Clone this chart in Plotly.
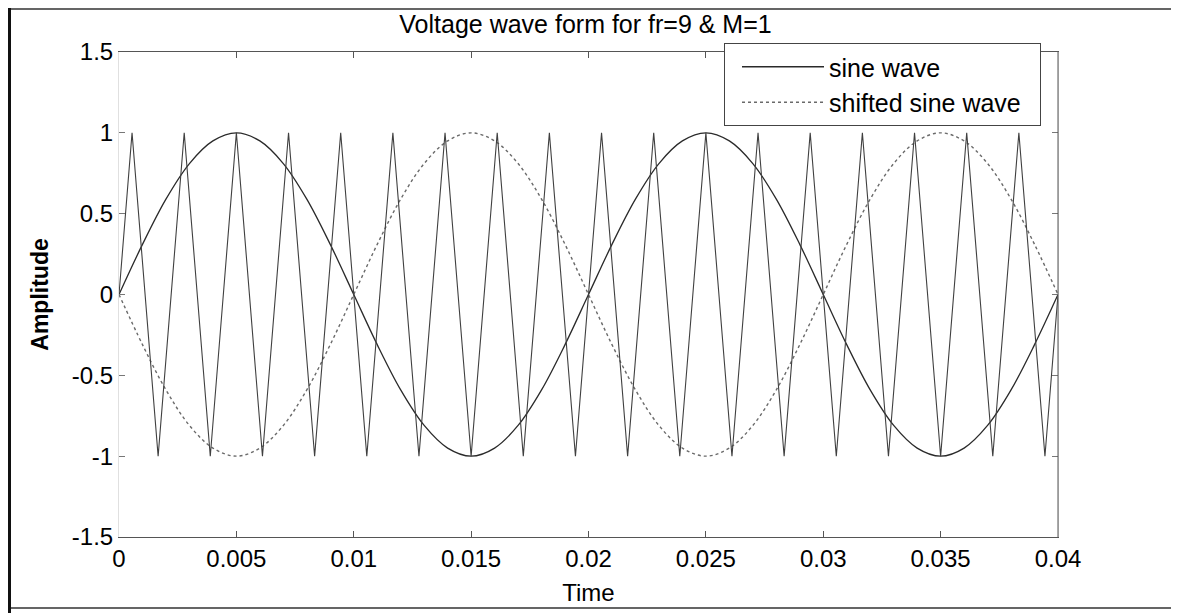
import plotly.graph_objects as go

# ---------------- data ----------------
sine_t = [0.000, 0.001, 0.002, 0.003, 0.004, 0.005, 0.006, 0.007, 0.008, 0.009,
          0.010, 0.011, 0.012, 0.013, 0.014, 0.015, 0.016, 0.017, 0.018, 0.019,
          0.020, 0.021, 0.022, 0.023, 0.024, 0.025, 0.026, 0.027, 0.028, 0.029,
          0.030, 0.031, 0.032, 0.033, 0.034, 0.035, 0.036, 0.037, 0.038, 0.039,
          0.040]
sine_v = [0.00, 0.31, 0.59, 0.81, 0.95, 1.00, 0.95, 0.81, 0.59, 0.31,
          0.00, -0.31, -0.59, -0.81, -0.95, -1.00, -0.95, -0.81, -0.59, -0.31,
          0.00, 0.31, 0.59, 0.81, 0.95, 1.00, 0.95, 0.81, 0.59, 0.31,
          0.00, -0.31, -0.59, -0.81, -0.95, -1.00, -0.95, -0.81, -0.59, -0.31,
          0.00]
shifted_v = [0.00, -0.31, -0.59, -0.81, -0.95, -1.00, -0.95, -0.81, -0.59, -0.31,
             0.00, 0.31, 0.59, 0.81, 0.95, 1.00, 0.95, 0.81, 0.59, 0.31,
             0.00, -0.31, -0.59, -0.81, -0.95, -1.00, -0.95, -0.81, -0.59, -0.31,
             0.00, 0.31, 0.59, 0.81, 0.95, 1.00, 0.95, 0.81, 0.59, 0.31,
             0.00]
carrier_t = [0.0, 0.000556, 0.001667, 0.002778, 0.003889, 0.005, 0.006111,
             0.007222, 0.008333, 0.009444, 0.010556, 0.011667, 0.012778,
             0.013889, 0.015, 0.016111, 0.017222, 0.018333, 0.019444,
             0.020556, 0.021667, 0.022778, 0.023889, 0.025, 0.026111,
             0.027222, 0.028333, 0.029444, 0.030556, 0.031667, 0.032778,
             0.033889, 0.035, 0.036111, 0.037222, 0.038333, 0.039444, 0.04]
carrier_v = [0, 1, -1, 1, -1, 1, -1, 1, -1, 1, -1, 1, -1, 1, -1, 1, -1, 1, -1,
             1, -1, 1, -1, 1, -1, 1, -1, 1, -1, 1, -1, 1, -1, 1, -1, 1, -1, 0]

x_ticks = [0, 0.005, 0.01, 0.015, 0.02, 0.025, 0.03, 0.035, 0.04]
x_ticktext = ["0", "0.005", "0.01", "0.015", "0.02", "0.025", "0.03", "0.035", "0.04"]
y_ticks = [-1.5, -1, -0.5, 0, 0.5, 1, 1.5]
y_ticktext = ["-1.5", "-1", "-0.5", "0", "0.5", "1", "1.5"]

# ---------------- layout helpers ----------------
# the page body has an 8px margin, so figure pixel coords = page coords - 8
W, H = 1171, 605
L, R, T, B = 111, 1050, 44, 529
def px(xp):
    return (xp - L) / (R - L)
def py(yp):
    return (B - yp) / (B - T)

FONT = "Liberation Sans, Arial, sans-serif"
PAD = "\u00a0\u00a0"

fig = go.Figure()
fig.add_trace(go.Scatter(x=sine_t, y=sine_v, mode="lines", name="sine wave" + PAD,
                         line=dict(color="#2a2a2a", width=1.3, shape="spline")))
fig.add_trace(go.Scatter(x=sine_t, y=shifted_v, mode="lines", name="shifted sine wave" + PAD,
                         line=dict(color="#6a6a6a", width=1.4, dash="dot", shape="spline")))
fig.add_trace(go.Scatter(x=carrier_t, y=carrier_v, mode="lines", showlegend=False,
                         line=dict(color="#404040", width=1.1)))

fig.update_layout(
    width=W, height=H,
    margin=dict(l=L, r=W - R, t=T, b=H - B, pad=0),
    paper_bgcolor="white", plot_bgcolor="white",
    font=dict(family=FONT, size=24, color="black"),
    title=dict(text="Voltage wave form for fr=9 & M=1", x=577.5 / W, xref="container",
               xanchor="center", y=1 - 16 / H, yref="container", yanchor="middle",
               font=dict(family=FONT, size=25, color="black")),
    xaxis=dict(range=[0, 0.04], tickvals=x_ticks, ticktext=x_ticktext,
               ticks="inside", ticklen=6, tickcolor="#555", mirror="ticks",
               showline=True, linecolor="#555", linewidth=1,
               showgrid=False, zeroline=False,
               title=dict(text="Time", standoff=13, font=dict(size=24))),
    yaxis=dict(range=[-1.5, 1.5], tickvals=y_ticks, ticktext=y_ticktext,
               ticks="inside", ticklen=6, tickcolor="#777", mirror="ticks",
               showline=True, linecolor="#e0e0e0", linewidth=1,
               showgrid=False, zeroline=False,
               title=dict(text="<b>Amplitude</b>", standoff=16, font=dict(size=23))),
    legend=dict(x=px(1033), y=py(35), xanchor="right", yanchor="top",
                bgcolor="white", bordercolor="#444", borderwidth=1,
                font=dict(family=FONT, size=25), itemwidth=82,
                indentation=12, tracegroupgap=0),
    showlegend=True,
)

# right axis line (dark) over light mirror line
fig.add_shape(type="line", xref="x domain", yref="y domain", x0=1, x1=1, y0=0, y1=1,
              line=dict(color="#555", width=1))
# outer frame of the figure
fig.add_shape(type="rect", xref="paper", yref="paper",
              x0=px(1), x1=px(1165), y0=py(600), y1=py(1),
              line=dict(color="#333", width=1.5))
fig.add_shape(type="line", xref="paper", yref="paper",
              x0=px(1.5), x1=px(1.5), y0=py(H), y1=py(0),
              line=dict(color="#111", width=3))

fig.write_html("out.html")
